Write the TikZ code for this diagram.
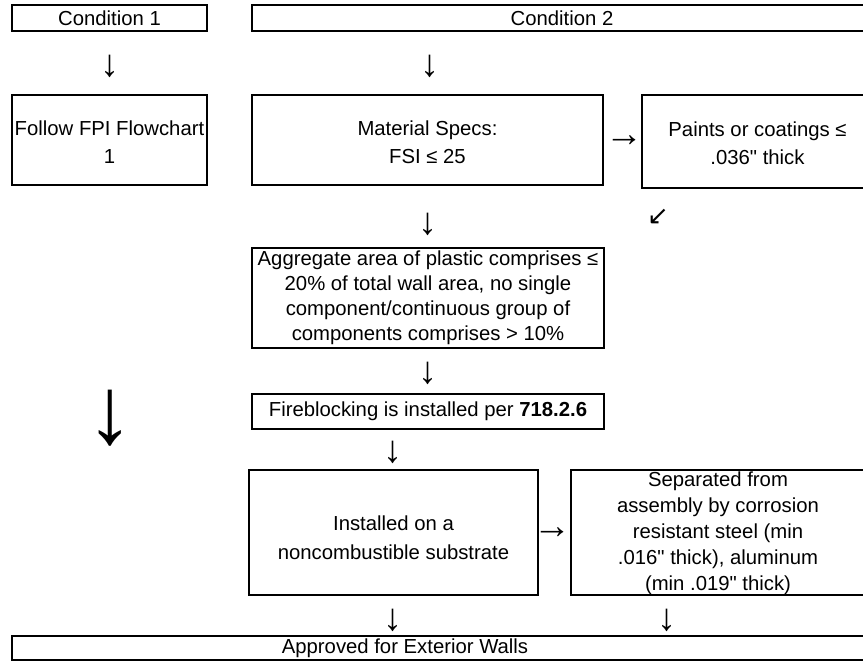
\documentclass[tikz,border=0pt]{standalone}
\usepackage{fontspec}
\setmainfont{Liberation Sans}[Ligatures=TeXOff]
\newfontfamily\symfont{DejaVu Sans}
\newcommand{\lift}[1]{\rule{0pt}{#1}}
\begin{document}
\begin{tikzpicture}[x=1pt,y=-1pt,
  box/.style={draw, line width=1.4pt, inner sep=0pt, align=center,
    font=\fontsize{20.3}{28.5}\selectfont},
  tight/.style={font=\fontsize{20.3}{25}\selectfont},
  mid/.style={font=\fontsize{20.3}{26}\selectfont},
  lbl/.style={inner sep=0pt, font=\fontsize{20.3}{26}\selectfont},
  arr/.style={inner sep=0pt, font=\fontsize{38}{40}\selectfont},
  slant/.style={inner sep=0pt, font=\symfont\fontsize{26}{30}\selectfont},
  bigarr/.style={inner sep=0pt, font=\fontsize{95}{100}\selectfont}]
\useasboundingbox (0,0) rectangle (863,662);
\clip (0,0) rectangle (863,662);
% boxes
\node[box, minimum width=195pt, minimum height=26pt] (c1) at (109.5,18) {Condition 1};
\node[box, minimum width=620pt, minimum height=26pt] (c2) at (562,18) {Condition 2};
\node[box, minimum width=195pt, minimum height=90pt] (fpi) at (109.5,140) {\lift{19pt}Follow FPI Flowchart\\1};
\node[box, minimum width=351pt, minimum height=90pt] (mat) at (427.5,140) {\lift{19pt}Material Specs:\\FSI ≤ 25};
\node[box, minimum width=231pt, minimum height=93pt] (paint) at (757.5,141.5) {\lift{18pt}Paints or coatings ≤\\.036" thick};
\node[box, tight, minimum width=352pt, minimum height=100pt] (agg) at (428,298) {Aggregate area of plastic comprises ≤\\20\% of total wall area, no single\\component/continuous group of\\components comprises > 10\%};
\node[box, minimum width=352pt, minimum height=35pt] (fire) at (428,411.5) {Fireblocking is installed per \textbf{718.2.6}};
\node[box, minimum width=289pt, minimum height=125pt] (inst) at (393.5,532.5) {\lift{25pt}Installed on a\\noncombustible substrate};
\node[box, mid, minimum width=294pt, minimum height=125pt, text height=119pt, text depth=4pt] (sep) at (718,532.5) {Separated from\\assembly by corrosion\\resistant steel (min\\.016" thick), aluminum\\(min .019" thick)};
\node[box, minimum width=868pt, minimum height=24pt] (appr) at (446,648) {};
\node[lbl] (apprtext) at (405,648) {Approved for Exterior Walls};
% arrow glyphs
\node[arr] (d1) at (110,66) {↓};
\node[arr] (d2) at (430,66) {↓};
\node[arr] (r1) at (624,141) {→};
\node[arr] (d3) at (428,224) {↓};
\node[slant] (dl) at (658,217) {↙};
\node[arr] (d4) at (428,373) {↓};
\node[bigarr] (dbig) at (110,418) {↓};
\node[arr] (d5) at (393,452) {↓};
\node[arr] (r2) at (552,533) {→};
\node[arr] (d6) at (393,620) {↓};
\node[arr] (d7) at (667,620) {↓};
\end{tikzpicture}
\end{document}
